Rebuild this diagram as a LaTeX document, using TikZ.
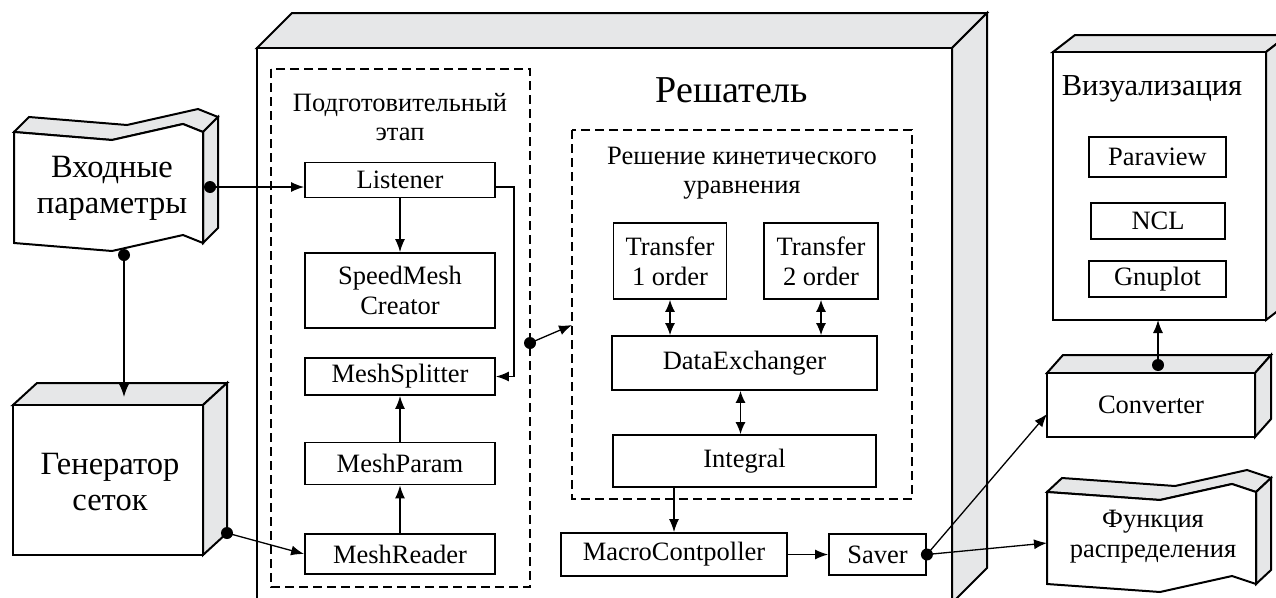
\documentclass[tikz,border=0pt]{standalone}
\usepackage{fontspec}
\setmainfont{Liberation Serif}
\usetikzlibrary{arrows.meta,calc}
\definecolor{facegray}{HTML}{E6E7E8}
\begin{document}
\begin{tikzpicture}[x=1pt,y=-1pt,
  edge/.style={draw=black, line width=2pt, line join=miter},
  front/.style={edge, fill=white},
  side/.style={edge, fill=facegray},
  box/.style={draw=black, line width=1.8pt, fill=white, inner sep=0pt, align=center,
              font=\fontsize{26.5}{30}\selectfont},
  frame/.style={draw=black, line width=1.8pt, dash pattern=on 9pt off 5pt},
  conn/.style={line width=1.3pt, -{Latex[length=13pt,width=10pt]}},
  twoway/.style={line width=1.3pt, {Latex[length=12pt,width=10pt]}-{Latex[length=12pt,width=10pt]}},
  dot/.style={circle, fill=black, inner sep=0pt, minimum size=12pt},
  bigtxt/.style={align=center, font=\fontsize{32.5}{36}\selectfont},
  midtxt/.style={align=center, font=\fontsize{26.5}{30}\selectfont},
  smalltxt/.style={align=center, font=\fontsize{26.5}{29}\selectfont},
]
\clip (0,0) rectangle (1276,597);
\fill[white] (0,0) rectangle (1276,597);

% ---------- input parameters (document shape) ----------
\draw[side] (14,132) -- (29,117) -- (127,125) -- (198,109) -- (218,117)
            -- (203,132) -- (183,124) -- (112,140) -- cycle;
\draw[side] (203,132) -- (218,117) -- (218,228) -- (203,243) -- cycle;
\draw[front] (14,132) -- (112,140) -- (183,124) -- (203,132) -- (203,243)
             -- (183,235) -- (112,251) -- (14,243) -- cycle;
\node[bigtxt] (inparams) at (112,188) {Входные\\параметры};

% ---------- mesh generator ----------
\draw[side] (13,405) -- (37,383) -- (227,383) -- (203,405) -- cycle;
\draw[side] (203,405) -- (227,383) -- (227,533) -- (203,555) -- cycle;
\draw[front] (13,405) rectangle (203,555);
\node[bigtxt] (generator) at (110,482) {Генератор\\сеток};

% ---------- solver ----------
\draw[side] (257,48) -- (292,13) -- (987,13) -- (952,48) -- cycle;
\draw[side] (952,48) -- (987,13) -- (987,568) -- (952,603) -- cycle;
\draw[front, line width=2.2pt] (257,48) rectangle (952,603);
\node[font=\fontsize{38}{42}\selectfont] (solver) at (732,90) {Решатель};

\draw[frame] (271,69) rectangle (530,587);
\node[smalltxt] (prep) at (400,117) {Подготовительный\\этап};

\node[box, minimum width=190pt, minimum height=35pt] (listener) at (400,180) {Listener};
\node[box, minimum width=190pt, minimum height=75pt] (speed) at (400,290.5) {SpeedMesh\\Creator};
\node[box, minimum width=190pt, minimum height=37pt] (splitter) at (400,376.5) {MeshSplitter};
\node[box, minimum width=190pt, minimum height=42pt] (param) at (400,463.5) {MeshParam};
\node[box, minimum width=190pt, minimum height=40pt] (reader) at (400,554) {MeshReader};

\draw[frame] (572,130) rectangle (912,499);
\node[smalltxt] (kin) at (742,173) {Решение кинетического\\уравнения};

\node[box, minimum width=113pt, minimum height=76pt] (t1) at (670,261) {Transfer\\1 order};
\node[box, minimum width=114pt, minimum height=76pt] (t2) at (821,261) {Transfer\\2 order};
\node[box, minimum width=265pt, minimum height=54pt] (dex) at (744.5,363) {DataExchanger};
\node[box, minimum width=263pt, minimum height=52pt] (integral) at (744.5,461) {Integral};
\node[box, minimum width=226pt, minimum height=43pt] (mc) at (674,554.5) {MacroContpoller};
\node[box, minimum width=97pt, minimum height=41pt] (saver) at (877.5,554.5) {Saver};

% ---------- visualization ----------
\draw[side] (1053,52) -- (1075,35) -- (1288,35) -- (1266,52) -- cycle;
\draw[side] (1266,52) -- (1288,35) -- (1288,303) -- (1266,320) -- cycle;
\draw[front] (1053,52) rectangle (1266,320);
\node[font=\fontsize{30.5}{34}\selectfont] (vis) at (1152,89) {Визуализация};
\node[box, minimum width=137pt, minimum height=40pt] (paraview) at (1157.5,157) {Paraview};
\node[box, minimum width=134pt, minimum height=36pt] (ncl) at (1158,221) {NCL};
\node[box, minimum width=137pt, minimum height=36pt] (gnuplot) at (1157.5,279) {Gnuplot};

% ---------- converter ----------
\draw[side] (1047,373) -- (1063,355) -- (1271,355) -- (1255,373) -- cycle;
\draw[side] (1255,373) -- (1271,355) -- (1271,419) -- (1255,437) -- cycle;
\draw[front] (1047,373) rectangle (1255,437);
\node[midtxt] (conv) at (1151,405) {Converter};

% ---------- distribution function (document shape) ----------
\draw[side] (1047,492) -- (1062,478) -- (1175,486) -- (1247,470) -- (1271,478)
            -- (1256,492) -- (1232,484) -- (1160,500) -- cycle;
\draw[side] (1256,492) -- (1271,478) -- (1271,570) -- (1256,584) -- cycle;
\draw[front] (1047,492) -- (1160,500) -- (1232,484) -- (1256,492) -- (1256,584)
             -- (1232,576) -- (1160,592) -- (1047,584) -- cycle;
\node[midtxt] (distfn) at (1153,537) {Функция\\распределения};

% ---------- connection points ----------
\coordinate (inR) at (210,187);
\coordinate (inB) at (124,255);
\coordinate (genTop) at (124,397);
\coordinate (genC) at (227,533);
\coordinate (prepR) at (530,343);
\coordinate (kinL) at (572,325);
\coordinate (convL) at (1047,414);
\coordinate (convT) at (1158,365);
\coordinate (visB) at (1158,320);
\coordinate (distL) at (1047,543);

% ---------- connectors ----------
\draw[conn] (inR) -- (inR -| listener.west);
\draw[conn] (inB) -- (genTop);
\draw[conn] (genC) -- (reader.west);
\draw[conn] (listener.south) -- (speed.north);
\draw[conn] ([yshift=-7pt]listener.east) -| ([xshift=18pt]splitter.east) -- (splitter.east);
\draw[conn] (reader.north) -- (param.south);
\draw[conn] (param.north) -- (splitter.south);
\draw[conn] (prepR) -- (kinL);
\draw[twoway] (t1.south) -- (t1.south |- dex.north);
\draw[twoway] (t2.south) -- (t2.south |- dex.north);
\draw[twoway] ([xshift=-4pt]dex.south) -- ([xshift=-4pt]integral.north);
\draw[conn] (mc.north |- integral.south) -- (mc.north);
\draw[conn] (mc.east) -- (saver.west);
\draw[conn] (saver.east) -- (convL);
\draw[conn] (saver.east) -- (distL);
\draw[conn] (convT) -- (visB);

% ---------- junction dots ----------
\node[dot] (dotIn) at (inR) {};
\node[dot] (dotInB) at (inB) {};
\node[dot] (dotGen) at (genC) {};
\node[dot] (dotPrep) at (prepR) {};
\node[dot] (dotSaver) at (saver.east) {};
\node[dot] (dotConv) at (convT) {};
\end{tikzpicture}
\end{document}
